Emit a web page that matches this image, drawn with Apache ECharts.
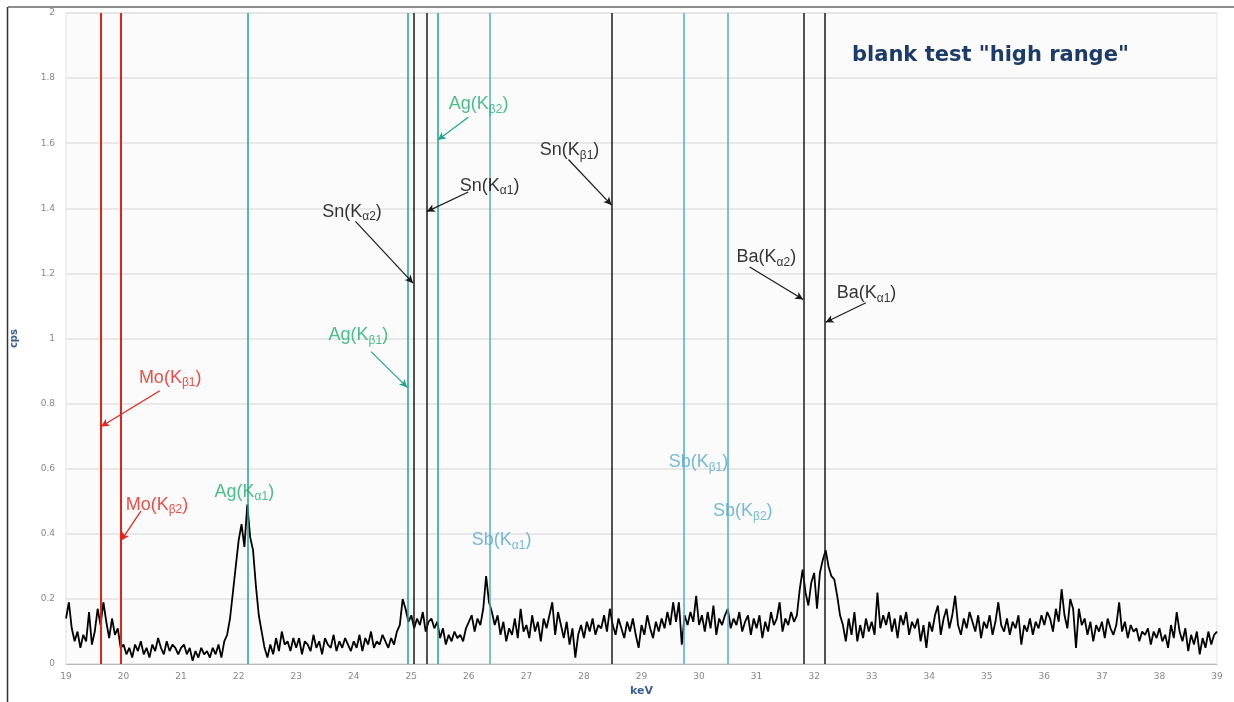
<!DOCTYPE html>
<html>
<head>
<meta charset="utf-8">
<title>blank test high range</title>
<script src="https://cdn.jsdelivr.net/npm/echarts@6/dist/echarts.min.js"></script>
<style>
html, body { margin: 0; padding: 0; background: #fff; }
#chart { width: 1234px; height: 702px; }
</style>
</head>
<body>
<div id="chart"></div>
<script>
// spectrum, one row per keV, channel step 0.05 keV
var keVStart = 19
var keVStep = 0.05
var cps = [
  0.14, 0.19, 0.11, 0.07, 0.10, 0.05, 0.09, 0.07, 0.16, 0.06, 0.10, 0.17, 0.12, 0.19, 0.13, 0.08, 0.14, 0.09, 0.11, 0.05, // 19
  0.06, 0.03, 0.05, 0.02, 0.06, 0.04, 0.07, 0.03, 0.05, 0.02, 0.06, 0.04, 0.08, 0.05, 0.03, 0.07, 0.04, 0.06, 0.05, 0.03, // 20
  0.05, 0.06, 0.03, 0.05, 0.01, 0.04, 0.02, 0.05, 0.03, 0.04, 0.02, 0.05, 0.03, 0.06, 0.02, 0.07, 0.09, 0.14, 0.22, 0.30, // 21
  0.38, 0.43, 0.36, 0.49, 0.39, 0.35, 0.24, 0.15, 0.10, 0.05, 0.02, 0.06, 0.03, 0.08, 0.04, 0.10, 0.06, 0.07, 0.04, 0.08, // 22
  0.05, 0.08, 0.03, 0.07, 0.06, 0.04, 0.09, 0.05, 0.07, 0.03, 0.08, 0.06, 0.05, 0.09, 0.04, 0.07, 0.05, 0.08, 0.06, 0.04, // 23
  0.07, 0.05, 0.09, 0.04, 0.08, 0.06, 0.10, 0.05, 0.07, 0.06, 0.09, 0.07, 0.05, 0.08, 0.06, 0.10, 0.12, 0.20, 0.17, 0.13, // 24
  0.15, 0.11, 0.14, 0.12, 0.16, 0.10, 0.13, 0.14, 0.11, 0.13, 0.08, 0.11, 0.06, 0.09, 0.07, 0.10, 0.08, 0.09, 0.07, 0.11, // 25
  0.13, 0.15, 0.10, 0.14, 0.12, 0.17, 0.27, 0.19, 0.16, 0.12, 0.15, 0.09, 0.13, 0.07, 0.11, 0.09, 0.14, 0.08, 0.17, 0.10, // 26
  0.12, 0.08, 0.15, 0.10, 0.13, 0.07, 0.14, 0.11, 0.15, 0.19, 0.09, 0.16, 0.12, 0.08, 0.13, 0.06, 0.11, 0.02, 0.09, 0.12, // 27
  0.08, 0.13, 0.10, 0.14, 0.09, 0.12, 0.11, 0.15, 0.10, 0.17, 0.12, 0.09, 0.14, 0.11, 0.08, 0.13, 0.10, 0.14, 0.09, 0.05, // 28
  0.12, 0.09, 0.15, 0.11, 0.08, 0.13, 0.10, 0.14, 0.11, 0.16, 0.12, 0.19, 0.13, 0.19, 0.06, 0.15, 0.12, 0.16, 0.13, 0.21, // 29
  0.12, 0.15, 0.10, 0.16, 0.11, 0.18, 0.09, 0.14, 0.12, 0.15, 0.17, 0.11, 0.14, 0.12, 0.16, 0.10, 0.13, 0.15, 0.09, 0.14, // 30
  0.11, 0.15, 0.08, 0.13, 0.10, 0.16, 0.12, 0.14, 0.19, 0.10, 0.14, 0.12, 0.16, 0.13, 0.15, 0.23, 0.29, 0.22, 0.18, 0.25, // 31
  0.28, 0.17, 0.28, 0.32, 0.35, 0.30, 0.27, 0.26, 0.21, 0.15, 0.12, 0.07, 0.14, 0.09, 0.16, 0.07, 0.12, 0.08, 0.14, 0.10, // 32
  0.13, 0.09, 0.22, 0.11, 0.15, 0.12, 0.16, 0.10, 0.14, 0.08, 0.15, 0.12, 0.16, 0.09, 0.13, 0.11, 0.14, 0.07, 0.12, 0.05, // 33
  0.13, 0.10, 0.15, 0.18, 0.09, 0.14, 0.17, 0.11, 0.15, 0.21, 0.12, 0.09, 0.14, 0.11, 0.16, 0.13, 0.10, 0.15, 0.08, 0.13, // 34
  0.11, 0.15, 0.09, 0.13, 0.19, 0.12, 0.10, 0.14, 0.09, 0.13, 0.11, 0.15, 0.06, 0.12, 0.10, 0.14, 0.09, 0.13, 0.11, 0.15, // 35
  0.12, 0.16, 0.14, 0.10, 0.17, 0.13, 0.23, 0.15, 0.11, 0.20, 0.17, 0.05, 0.17, 0.12, 0.14, 0.09, 0.13, 0.07, 0.12, 0.10, // 36
  0.13, 0.08, 0.14, 0.11, 0.09, 0.12, 0.19, 0.10, 0.13, 0.08, 0.12, 0.10, 0.11, 0.07, 0.10, 0.09, 0.11, 0.06, 0.10, 0.08, // 37
  0.11, 0.07, 0.09, 0.05, 0.12, 0.08, 0.16, 0.10, 0.07, 0.11, 0.04, 0.09, 0.06, 0.10, 0.03, 0.08, 0.05, 0.10, 0.06, 0.09, // 38
  0.10 // 39
]

// emission line energies (keV)
var moLines = [19.608, 19.965]
var agLines = [22.163, 24.942, 25.457]
var snLines = [25.044, 25.271, 28.486]
var sbLines = [26.359, 29.726, 30.496]
var baLines = [31.817, 32.194]

// annotation labels: [element, subscript, keV, cps, group]
var labels = [
  ['Mo', 'β1', 20.81, 0.88, 'mo'],
  ['Mo', 'β2', 20.58, 0.49, 'mo'],
  ['Ag', 'α1', 22.10, 0.53, 'ag'],
  ['Ag', 'β1', 24.08, 1.01, 'ag'],
  ['Ag', 'β2', 26.17, 1.72, 'ag'],
  ['Sn', 'α2', 23.97, 1.39, 'sn'],
  ['Sn', 'α1', 26.36, 1.47, 'sn'],
  ['Sn', 'β1', 27.75, 1.58, 'sn'],
  ['Sb', 'α1', 26.57, 0.38, 'sb'],
  ['Sb', 'β1', 29.99, 0.62, 'sb'],
  ['Sb', 'β2', 30.76, 0.47, 'sb'],
  ['Ba', 'α2', 31.17, 1.25, 'sn'],
  ['Ba', 'α1', 32.91, 1.14, 'sn']
]

// arrows: [fromKeV, fromCps, toKeV, toCps, group]
var arrows = [
  [20.63, 0.84, 19.61, 0.73, 'mo'],
  [20.30, 0.47, 19.96, 0.38, 'mo'],
  [24.30, 0.96, 24.93, 0.85, 'ag'],
  [25.99, 1.68, 25.46, 1.61, 'ag'],
  [24.03, 1.36, 25.03, 1.17, 'sn'],
  [25.99, 1.45, 25.27, 1.39, 'sn'],
  [27.73, 1.55, 28.48, 1.41, 'sn'],
  [30.88, 1.22, 31.81, 1.12, 'sn'],
  [32.90, 1.11, 32.20, 1.05, 'sn']
]

var lineColor = { mo: '#e3241c', ag: '#1fa58e', sn: '#1a1a1a', sb: '#4db0cc', ba: '#1a1a1a' }
var textColor = { mo: '#e3241c', ag: '#1fae6e', sn: '#000000', sb: '#55a8cc' }

var spectrum = cps.map(function(v, i) {
  return [+(keVStart + i * keVStep).toFixed(2), v]
})

function vlines(list, color, width) {
  return list.map(function(e) {
    return { xAxis: e, lineStyle: { color: color, width: width, type: 'solid' } }
  })
}

var verticals = []
  .concat(vlines(moLines, lineColor.mo, 2))
  .concat(vlines(agLines, lineColor.ag, 1.5))
  .concat(vlines(sbLines, lineColor.sb, 1.5))
  .concat(vlines(snLines, lineColor.sn, 1.5))
  .concat(vlines(baLines, lineColor.ba, 1.5))

var arrowData = arrows.map(function(a) {
  return [
    { coord: [a[0], a[1]], lineStyle: { color: lineColor[a[4]], width: 1.2, type: 'solid' }, itemStyle: { color: lineColor[a[4]] } },
    { coord: [a[2], a[3]] }
  ]
})

var labelData = labels.map(function(l) {
  return {
    value: [l[2], l[3]],
    name: l[0] + '|' + l[1],
    label: { color: textColor[l[4]] }
  }
})

var chart = echarts.init(document.getElementById('chart'))
chart.setOption({
  backgroundColor: '#ffffff',
  animation: false,
  title: {
    text: 'blank test "high range"',
    left: 847,
    top: 40,
    textStyle: {
      fontFamily: 'DejaVu Sans',
      fontWeight: 'bold',
      fontSize: 21,
      color: '#1d3b68'
    }
  },
  graphic: [
    { type: 'line', shape: { x1: 8, y1: 7, x2: 1234, y2: 7 }, style: { stroke: '#666', lineWidth: 1.5 } },
    { type: 'line', shape: { x1: 7.5, y1: 7, x2: 7.5, y2: 702 }, style: { stroke: '#333', lineWidth: 1.5 } }
  ],
  grid: {
    left: 66,
    right: 17,
    top: 13,
    bottom: 29,
    show: true,
    backgroundColor: '#fbfbfb',
    borderColor: '#e2e2e2',
    borderWidth: 1
  },
  xAxis: {
    type: 'value',
    min: 19,
    max: 39,
    interval: 1,
    name: 'keV',
    nameLocation: 'middle',
    nameGap: 21,
    nameTextStyle: { fontFamily: 'DejaVu Sans', fontWeight: 'bold', fontSize: 11, color: '#3a5f92' },
    axisLine: { lineStyle: { color: '#bbbbbb' } },
    axisTick: { show: false },
    axisLabel: { fontFamily: 'DejaVu Sans', fontSize: 9, color: '#888888', margin: 8 },
    splitLine: { show: false }
  },
  yAxis: {
    type: 'value',
    min: 0,
    max: 2,
    interval: 0.2,
    name: 'cps',
    nameLocation: 'middle',
    nameRotate: 90,
    nameGap: 47,
    nameTextStyle: { fontFamily: 'DejaVu Sans', fontWeight: 'bold', fontSize: 10, color: '#3a5f92' },
    axisLine: { show: false },
    axisTick: { show: false },
    axisLabel: { fontFamily: 'DejaVu Sans', fontSize: 9, color: '#888888', margin: 11 },
    splitLine: { lineStyle: { color: '#e2e2e2', width: 1.5 } }
  },
  series: [
    {
      name: 'lines',
      type: 'line',
      data: [],
      z: 1,
      markLine: {
        silent: true,
        symbol: 'none',
        label: { show: false },
        data: verticals
      }
    },
    {
      name: 'spectrum',
      type: 'line',
      data: spectrum,
      z: 3,
      showSymbol: false,
      symbol: 'none',
      lineStyle: { color: '#000000', width: 1.8 }
    },
    {
      name: 'arrows',
      type: 'line',
      data: [],
      z: 4,
      markLine: {
        silent: true,
        symbol: ['none', 'arrow'],
        symbolSize: [6, 8],
        label: { show: false },
        data: arrowData
      }
    },
    {
      name: 'labels',
      type: 'scatter',
      data: labelData,
      z: 5,
      symbolSize: 0,
      label: {
        show: true,
        position: 'inside',
        textBorderWidth: 0,
        textBorderColor: 'transparent',
        formatter: function(p) {
          var parts = p.name.split('|')
          return '{m|' + parts[0] + '(K}{s|' + parts[1] + '}{m|)}'
        },
        rich: {
          m: { fontFamily: 'Liberation Sans', fontSize: 18, lineHeight: 23 },
          s: { fontFamily: 'Liberation Sans', fontSize: 12, lineHeight: 12, verticalAlign: 'bottom' }
        }
      }
    }
  ]
})
</script>
</body>
</html>
